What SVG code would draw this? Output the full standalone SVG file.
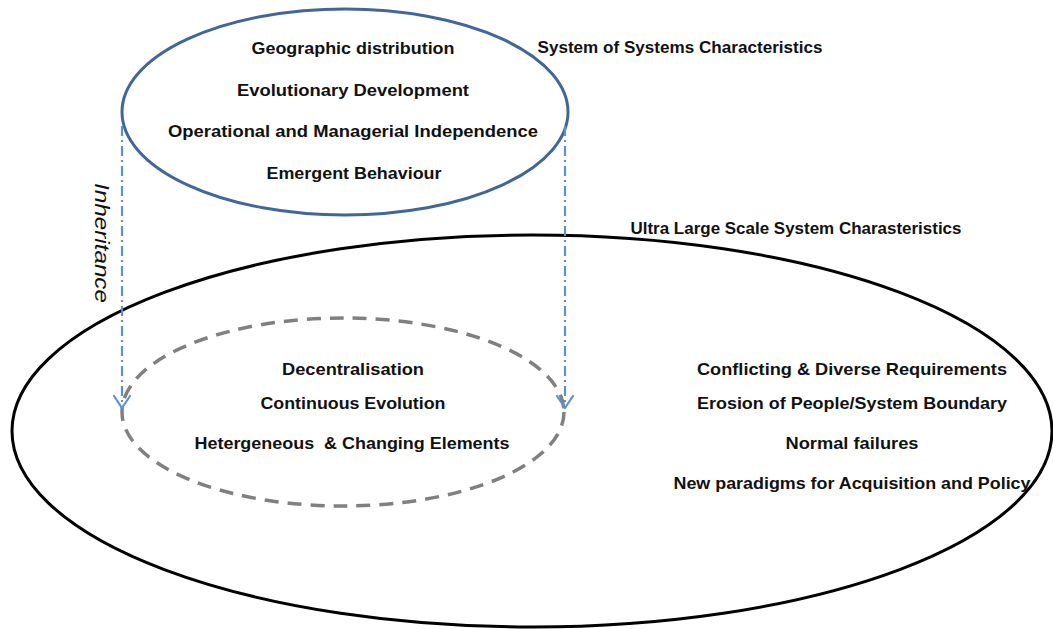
<svg xmlns="http://www.w3.org/2000/svg" width="1053" height="629" viewBox="0 0 1053 629">
<style>
  .t { font-family: "Liberation Sans", Arial, sans-serif; font-weight: bold; font-size: 17px; fill: #111111; text-anchor: middle; }
  .conn { stroke: #5b8fd6; stroke-width: 2.2; fill: none; stroke-dasharray: 10 4 2 4; }
  .head { stroke: #5b8fd6; stroke-width: 2.2; fill: none; stroke-linecap: round; stroke-linejoin: round; }
</style>
<defs>
  <marker id="chev" viewBox="0 0 20 20" refX="18" refY="10" markerWidth="20" markerHeight="20" markerUnits="userSpaceOnUse" orient="auto">
    <path class="head" d="M6 2 L18 10 L6 18"/>
  </marker>
</defs>
<rect width="1053" height="629" fill="#ffffff"/>

<g id="uls">
  <ellipse cx="532" cy="431" rx="520" ry="196" fill="none" stroke="#000" stroke-width="3"/>
  <text class="t" x="796" y="234" textLength="331" lengthAdjust="spacingAndGlyphs">Ultra Large Scale System Charasteristics</text>
  <text class="t" x="852" y="375" textLength="310" lengthAdjust="spacingAndGlyphs">Conflicting &amp; Diverse Requirements</text>
  <text class="t" x="852" y="409" textLength="310" lengthAdjust="spacingAndGlyphs">Erosion of People/System Boundary</text>
  <text class="t" x="852" y="449" textLength="133" lengthAdjust="spacingAndGlyphs">Normal failures</text>
  <text class="t" x="852" y="489" textLength="357" lengthAdjust="spacingAndGlyphs">New paradigms for Acquisition and Policy</text>
</g>

<g id="inherited">
  <ellipse cx="343" cy="412" rx="221" ry="94" fill="none" stroke="#808080" stroke-width="3.5" stroke-dasharray="14 9"/>
  <text class="t" x="353" y="375" textLength="142" lengthAdjust="spacingAndGlyphs">Decentralisation</text>
  <text class="t" x="353" y="409" textLength="185" lengthAdjust="spacingAndGlyphs">Continuous Evolution</text>
  <text class="t" x="352" y="449" textLength="315" lengthAdjust="spacingAndGlyphs" xml:space="preserve">Hetergeneous  &amp; Changing Elements</text>
</g>

<g id="sos">
  <ellipse cx="345" cy="112" rx="223" ry="103" fill="none" stroke="#41679a" stroke-width="3"/>
  <text class="t" x="353" y="54" textLength="203" lengthAdjust="spacingAndGlyphs">Geographic distribution</text>
  <text class="t" x="353" y="96" textLength="232" lengthAdjust="spacingAndGlyphs">Evolutionary Development</text>
  <text class="t" x="353" y="137" textLength="370" lengthAdjust="spacingAndGlyphs">Operational and Managerial Independence</text>
  <text class="t" x="354" y="179" textLength="175" lengthAdjust="spacingAndGlyphs">Emergent Behaviour</text>
  <text class="t" x="680" y="53" textLength="285" lengthAdjust="spacingAndGlyphs">System of Systems Characteristics</text>
</g>

<g id="connectors">
  <line class="conn" x1="122" y1="126" x2="122" y2="408" marker-end="url(#chev)"/>
  <line class="conn" x1="565" y1="126" x2="565" y2="408" marker-end="url(#chev)"/>
  <text x="0" y="0" transform="translate(95,183) rotate(90)" font-family="Liberation Sans, Arial, sans-serif" font-style="italic" font-size="20" fill="#111111" textLength="120" lengthAdjust="spacingAndGlyphs">Inheritance</text>
</g>
</svg>
